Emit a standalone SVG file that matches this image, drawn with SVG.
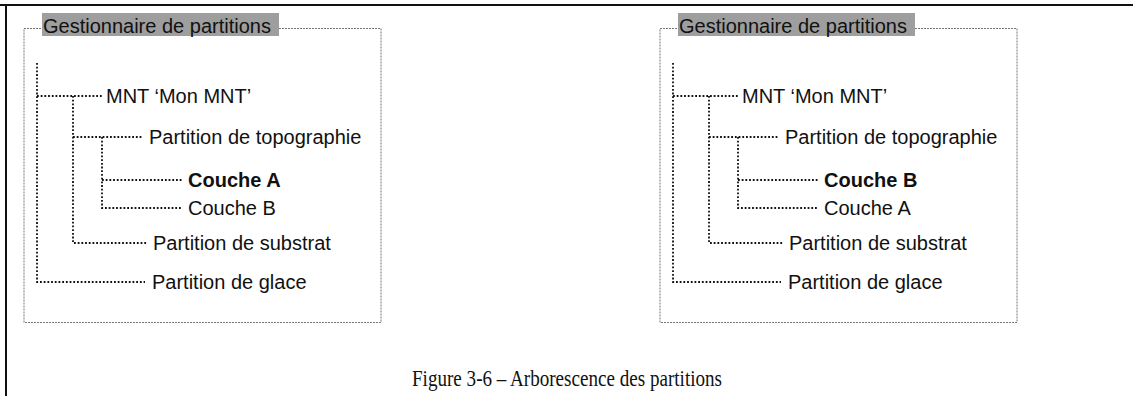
<svg xmlns="http://www.w3.org/2000/svg" width="1133" height="396" viewBox="0 0 1133 396">
  <style>
    .frame { fill: none; stroke: #111; stroke-width: 2; }
    .box { fill: none; stroke: #777; stroke-width: 1; stroke-dasharray: 2 1; }
    .title-bg { fill: #9e9e9e; }
    .title { font-family: "Liberation Sans", Arial, sans-serif; font-size: 20px; fill: #111; }
    .label { font-family: "Liberation Sans", Arial, sans-serif; font-size: 20px; fill: #111; }
    .bold { font-weight: bold; }
    .tree { fill: none; stroke: #111; stroke-width: 1.8; stroke-dasharray: 1.8 1.9; }
    .caption { font-family: "Liberation Serif", "Times New Roman", serif; font-size: 24px; fill: #111; }
  </style>

  <!-- page frame -->
  <path class="frame" d="M0 5 H1133 M6 5 V396"/>

  <!-- left panel -->
  <g id="panel-left">
    <rect class="box" x="24" y="28.5" width="357" height="294"/>
    <g id="title-left">
      <rect class="title-bg" x="42" y="13" width="237" height="23"/>
      <text class="title" x="43" y="33">Gestionnaire de partitions</text>
    </g>
    <g id="connectors-left">
      <path class="tree" d="M37 63 V282 H145"/>
      <path class="tree" d="M37 96 H102"/>
      <path class="tree" d="M73 96 V243 H148"/>
      <path class="tree" d="M73 137 H142"/>
      <path class="tree" d="M102 137 V208 H182"/>
      <path class="tree" d="M102 180 H182"/>
    </g>
    <g id="node-mnt-left"><text class="label" x="106" y="103">MNT ‘Mon MNT’</text></g>
    <g id="node-topo-left"><text class="label" x="149" y="144">Partition de topographie</text></g>
    <g id="node-couche-a-left"><text class="label bold" x="188" y="187">Couche A</text></g>
    <g id="node-couche-b-left"><text class="label" x="188" y="215">Couche B</text></g>
    <g id="node-substrat-left"><text class="label" x="153" y="250">Partition de substrat</text></g>
    <g id="node-glace-left"><text class="label" x="152" y="289">Partition de glace</text></g>
  </g>

  <!-- right panel -->
  <g id="panel-right" transform="translate(636 0)">
    <rect class="box" x="24" y="28.5" width="357" height="294"/>
    <g id="title-right">
      <rect class="title-bg" x="42" y="13" width="237" height="23"/>
      <text class="title" x="43" y="33">Gestionnaire de partitions</text>
    </g>
    <g id="connectors-right">
      <path class="tree" d="M37 63 V282 H145"/>
      <path class="tree" d="M37 96 H102"/>
      <path class="tree" d="M73 96 V243 H148"/>
      <path class="tree" d="M73 137 H142"/>
      <path class="tree" d="M102 137 V208 H182"/>
      <path class="tree" d="M102 180 H182"/>
    </g>
    <g id="node-mnt-right"><text class="label" x="106" y="103">MNT ‘Mon MNT’</text></g>
    <g id="node-topo-right"><text class="label" x="149" y="144">Partition de topographie</text></g>
    <g id="node-couche-b-right"><text class="label bold" x="188" y="187">Couche B</text></g>
    <g id="node-couche-a-right"><text class="label" x="188" y="215">Couche A</text></g>
    <g id="node-substrat-right"><text class="label" x="153" y="250">Partition de substrat</text></g>
    <g id="node-glace-right"><text class="label" x="152" y="289">Partition de glace</text></g>
  </g>

  <text class="caption" x="412" y="386" textLength="310" lengthAdjust="spacingAndGlyphs">Figure 3-6 – Arborescence des partitions</text>
</svg>
